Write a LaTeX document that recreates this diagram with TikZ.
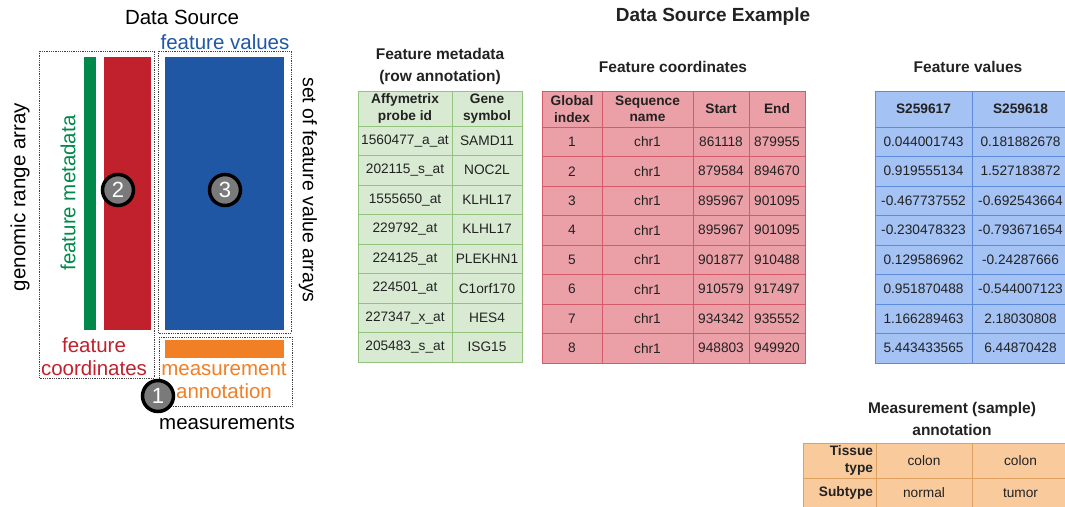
\documentclass[tikz,border=0pt]{standalone}
\usepackage{fontspec}
\setmainfont{Liberation Sans}
\usepackage{tikz}
\definecolor{dsgreen}{HTML}{00894B}
\definecolor{dsred}{HTML}{C1202D}
\definecolor{dsblue}{HTML}{1F57A5}
\definecolor{dsorange}{HTML}{F07F26}
\definecolor{gfill}{HTML}{D9EAD3}
\definecolor{gline}{HTML}{93C47D}
\definecolor{pfill}{HTML}{EBA0A8}
\definecolor{pline}{HTML}{D65A6A}
\definecolor{bfill}{HTML}{A4C2F4}
\definecolor{bline}{HTML}{5B8BD9}
\definecolor{ofill}{HTML}{F9CB9C}
\definecolor{oline}{HTML}{E0A060}
\definecolor{txt}{HTML}{222222}
\tikzset{
    DB/.style ={draw=black!75, densely dotted, line width=0.8pt},
    CN/.style ={circle, minimum size=31pt, inner sep=0pt, draw=black, line width=3.5pt, fill=black!52, text=white, font=\fontsize{22}{22}\selectfont},
    LB/.style ={inner sep=0pt, font=\fontsize{20.5}{23}\selectfont, align=center},
    TT/.style ={inner sep=0pt, text=txt, font=\bfseries\fontsize{15.5}{22}\selectfont, align=center},
    CL/.style ={inner sep=0pt, line width=0.6pt, minimum width=#1, minimum height=29.5pt, text=txt, font=\fontsize{13.7}{16.5}\selectfont, align=center},
    HD/.style ={minimum height=36pt, font=\bfseries\fontsize{13.7}{16.5}\selectfont},
    GC/.style ={CL=#1, draw=gline, fill=gfill},
    PC/.style ={CL=#1, draw=pline, fill=pfill},
    BC/.style ={CL=#1, draw=bline, fill=bfill},
    OC/.style ={CL=#1, draw=oline, fill=ofill}
}
\begin{document}
\begin{tikzpicture}[x=1pt,y=-1pt]
    \useasboundingbox (0,0) rectangle (1065,506);
    % data source sketch
    \fill[dsgreen] (84,57) rectangle (96,330);
    \fill[dsred] (104,57) rectangle (151,330);
    \fill[dsblue] (165,57) rectangle (284,330);
    \fill[dsorange] (165,340) rectangle (284,358);
    \draw[DB] (39,51) rectangle (154,378);
    \draw[DB] (158,51) rectangle (291,333);
    \draw[DB] (159,337) rectangle (292,406);
    \node[LB] (ds) at (182,17) {Data Source};
    \node[LB, text=dsblue] (fv) at (225,42) {feature values};
    \node[LB, rotate=90] (gra) at (20,197) {genomic range array};
    \node[LB, rotate=90, text=dsgreen] (fmd) at (68,193) {feature metadata};
    \node[LB, rotate=-90, font=\fontsize{19.5}{22}\selectfont] (sfv) at (308,190) {set of feature value arrays};
    \node[LB, text=dsred] (fc) at (94,356.5) {feature\\coordinates};
    \node[LB, text=dsorange] (ma) at (224,380.5) {measurement\\annotation};
    \node[LB] (ms) at (227,423) {measurements};
    \node[CN] (c1) at (158,396) {1};
    \node[CN] (c2) at (118,190) {2};
    \node[CN] (c3) at (225,190) {3};
    % example tables
    \node[TT, font=\bfseries\fontsize{19}{20}\selectfont] (dse) at (713,17) {Data Source Example};
    \node[TT] (fmt) at (440,66) {Feature metadata\\(row annotation)};
    \node[TT] (fct) at (673,67) {Feature coordinates};
    \node[TT] (fvt) at (968,67) {Feature values};
    \node[TT] (mat) at (952,418.5) {Measurement (sample)\\annotation};
    \node[GC=94, HD, minimum height=35pt] (fm-0-1) at (405,108.5) {Affymetrix\\probe id};
    \node[GC=70, HD, minimum height=35pt] (fm-0-2) at (487,108.5) {Gene\\symbol};
    \foreach \i/\p/\g in {1/1560477\_a\_at/SAMD11, 2/202115\_s\_at/NOC2L, 3/1555650\_at/KLHL17, 4/229792\_at/KLHL17,
                          5/224125\_at/PLEKHN1, 6/224501\_at/C1orf170, 7/227347\_x\_at/HES4, 8/205483\_s\_at/ISG15}{
        \node[GC=94] (fm-\i-1) at (405,{126+29.5*(\i-.5)}) {\p};
        \node[GC=70] (fm-\i-2) at (487,{126+29.5*(\i-.5)}) {\g};}
    \node[PC=60, HD] (fc-0-1) at (572,109) {Global\\index};
    \node[PC=91, HD] (fc-0-2) at (647.5,109) {Sequence\\name};
    \node[PC=56, HD] (fc-0-3) at (721,109) {Start};
    \node[PC=56, HD] (fc-0-4) at (777,109) {End};
    \foreach \i/\s/\e in {1/861118/879955, 2/879584/894670, 3/895967/901095, 4/895967/901095,
                          5/901877/910488, 6/910579/917497, 7/934342/935552, 8/948803/949920}{
        \node[PC=60] (fc-\i-1) at (572,{127+29.5*(\i-.5)}) {\i};
        \node[PC=91] (fc-\i-2) at (647.5,{127+29.5*(\i-.5)}) {chr1};
        \node[PC=56] (fc-\i-3) at (721,{127+29.5*(\i-.5)}) {\s};
        \node[PC=56] (fc-\i-4) at (777,{127+29.5*(\i-.5)}) {\e};}
    \node[BC=97, HD] (fv-0-1) at (923.5,109) {S259617};
    \node[BC=97, HD] (fv-0-2) at (1020.5,109) {S259618};
    \foreach \i/\u/\v in {1/0.044001743/0.181882678, 2/0.919555134/1.527183872, 3/-0.467737552/-0.692543664,
                          4/-0.230478323/-0.793671654, 5/0.129586962/-0.24287666, 6/0.951870488/-0.544007123,
                          7/1.166289463/2.18030808, 8/5.443433565/6.44870428}{
        \node[BC=97] (fv-\i-1) at (923.5,{127+29.5*(\i-.5)}) {\u};
        \node[BC=97] (fv-\i-2) at (1020.5,{127+29.5*(\i-.5)}) {\v};}
    \node[OC=73, HD, minimum height=35pt, text width=67pt, align=right] (ma-1-0) at (839.5,460.5) {Tissue\\type};
    \node[OC=96, minimum height=35pt] (ma-1-1) at (924,460.5) {colon};
    \node[OC=97, minimum height=35pt] (ma-1-2) at (1020.5,460.5) {colon};
    \node[OC=73, HD, minimum height=30pt, text width=67pt, align=right] (ma-2-0) at (839.5,493) {Subtype};
    \node[OC=96, minimum height=30pt] (ma-2-1) at (924,493) {normal};
    \node[OC=97, minimum height=30pt] (ma-2-2) at (1020.5,493) {tumor};
\end{tikzpicture}
\end{document}
